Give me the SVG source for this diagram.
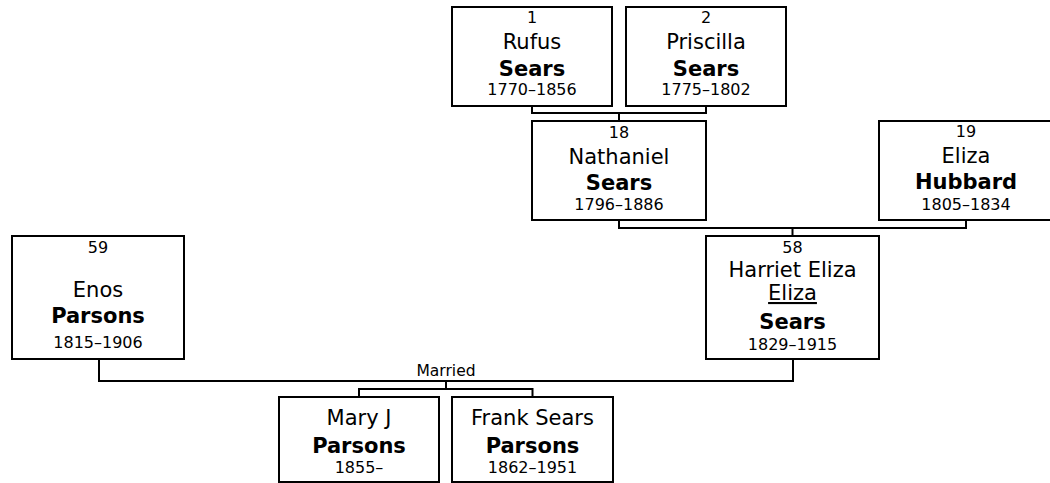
<svg xmlns="http://www.w3.org/2000/svg" width="1050" height="483" viewBox="0 0 1050 483">
<style>
.box{fill:#fff;stroke:#000;stroke-width:2}
.ln{fill:none;stroke:#000;stroke-width:2}
text{font-family:"DejaVu Sans","Liberation Sans",sans-serif;fill:#000;text-anchor:middle}
.sm{font-size:16px}
.nm{font-size:21px}
.sn{font-size:21px;font-weight:bold}
.ul{text-decoration:underline}
</style>
<rect width="1050" height="483" fill="#fff"/>
<g id="connectors">
<polyline class="ln" points="532,106 532,113 706,113 706,106"/>
<line class="ln" x1="619" y1="113" x2="619" y2="121"/>
<polyline class="ln" points="619,220 619,228 966,228 966,220"/>
<line class="ln" x1="792.5" y1="228" x2="792.5" y2="236"/>
<polyline class="ln" points="99,359 99,381 793,381 793,359"/>
<text class="sm" x="446" y="376" style="font-size:15.5px">Married</text>
<line class="ln" x1="446" y1="381" x2="446" y2="389"/>
<polyline class="ln" points="359,397 359,389 532.5,389 532.5,397"/>
</g>
<g id="n1">
<rect class="box" x="452" y="7" width="160" height="99"/>
<text class="sm" x="532" y="23">1</text>
<text class="nm" x="532" y="49">Rufus</text>
<text class="sn" x="532" y="76">Sears</text>
<text class="sm" x="532" y="95">1770–1856</text>
</g>
<g id="n2">
<rect class="box" x="626" y="7" width="160" height="99"/>
<text class="sm" x="706" y="23">2</text>
<text class="nm" x="706" y="49">Priscilla</text>
<text class="sn" x="706" y="76">Sears</text>
<text class="sm" x="706" y="95">1775–1802</text>
</g>
<g id="n18">
<rect class="box" x="532" y="121" width="174" height="99"/>
<text class="sm" x="619" y="138">18</text>
<text class="nm" x="619" y="164">Nathaniel</text>
<text class="sn" x="619" y="190">Sears</text>
<text class="sm" x="619" y="210">1796–1886</text>
</g>
<g id="n19">
<rect class="box" x="879" y="121" width="174" height="99"/>
<text class="sm" x="966" y="137">19</text>
<text class="nm" x="966" y="163">Eliza</text>
<text class="sn" x="966" y="189">Hubbard</text>
<text class="sm" x="966" y="210">1805–1834</text>
</g>
<g id="n58">
<rect class="box" x="706" y="236" width="173" height="123"/>
<text class="sm" x="792.5" y="253">58</text>
<text class="nm" x="792.5" y="277">Harriet Eliza</text>
<text class="nm ul" x="792.5" y="300">Eliza</text>
<text class="sn" x="792.5" y="329">Sears</text>
<text class="sm" x="792.5" y="350">1829–1915</text>
</g>
<g id="n59">
<rect class="box" x="12" y="236" width="172" height="123"/>
<text class="sm" x="98" y="253">59</text>
<text class="nm" x="98" y="297">Enos</text>
<text class="sn" x="98" y="323">Parsons</text>
<text class="sm" x="98" y="348">1815–1906</text>
</g>
<g id="c1">
<rect class="box" x="279" y="397" width="160" height="85"/>
<text class="nm" x="359" y="425">Mary J</text>
<text class="sn" x="359" y="453">Parsons</text>
<text class="sm" x="359" y="473">1855–</text>
</g>
<g id="c2">
<rect class="box" x="452" y="397" width="161" height="85"/>
<text class="nm" x="532.5" y="425">Frank Sears</text>
<text class="sn" x="532.5" y="453">Parsons</text>
<text class="sm" x="532.5" y="473">1862–1951</text>
</g>
</svg>
